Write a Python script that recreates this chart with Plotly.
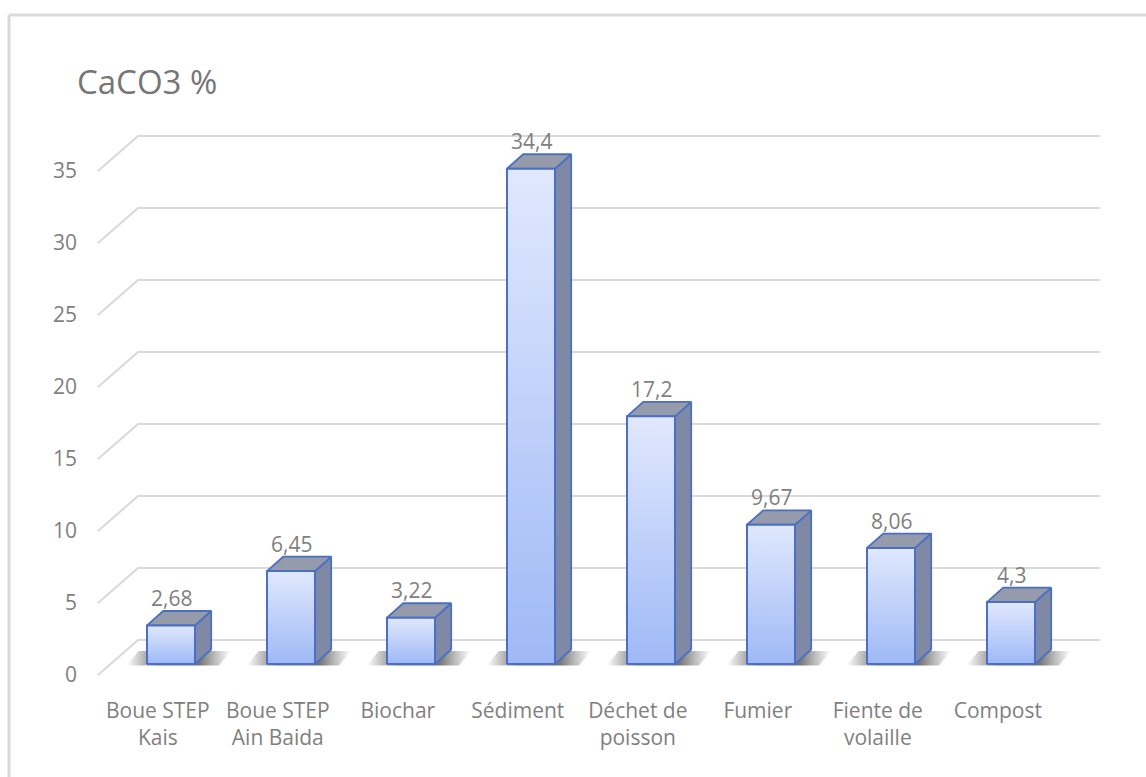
import plotly.graph_objects as go

# ---- data ----
categories = ["Boue STEP<br>Kais", "Boue STEP<br>Ain Baida", "Biochar", "Sédiment",
              "Déchet de<br>poisson", "Fumier", "Fiente de<br>volaille", "Compost"]
caco3 = [2.68, 6.45, 3.22, 34.4, 17.2, 9.67, 8.06, 4.3]
y_ticks = [0, 5, 10, 15, 20, 25, 30, 35]
title_text = "CaCO3 %"

# ---- page / scale geometry ----
W, H = 1146, 777
CAT_PX = 120.0        # pixels between category centres
UNIT_PX = 14.4        # pixels per % unit
X0_PX = 171.0         # pixel column of the first category
BASE_PX = 664.0       # pixel row of the bar base (front plane)

x_range = [-X0_PX / CAT_PX, (W - X0_PX) / CAT_PX]
y_range = [-(H - BASE_PX) / UNIT_PX, BASE_PX / UNIT_PX]

# 3-D look (data units)
HALF_W = 0.2          # half width of a bar front face
DEPTH_X = 0.135       # oblique depth of a bar, horizontal
DEPTH_Y = 1.0         # oblique depth of a bar, vertical
SIDE_FRONT_X = -0.608 # front edge of the side wall
WALL_LEFT_X = -0.275  # back wall left edge
WALL_RIGHT_X = 7.74   # back wall right edge
SIDE_FRONT_DY = -0.764
BACK_DY = 1.667
LABEL_SHIFT = -0.11   # category labels sit on the front edge of the floor

GRID_COLOR = "#d9d9d9"
TEXT_COLOR = "#7f7f7f"
EDGE_COLOR = "#4a6fc4"
FRONT_TOP = "#e0e8fd"
FRONT_BOTTOM = "#9fb9f6"
SIDE_COLOR = "#7f89a6"
TOP_COLOR = "#969bac"
FONT = "Open Sans"

fig = go.Figure()

# side wall and back wall gridlines
gx, gy = [], []
for v in y_ticks:
    gx += [SIDE_FRONT_X, WALL_LEFT_X, WALL_RIGHT_X, None]
    gy += [v + SIDE_FRONT_DY, v + BACK_DY, v + BACK_DY, None]
fig.add_trace(go.Scatter(x=gx, y=gy, mode="lines",
                         line=dict(color=GRID_COLOR, width=2),
                         hoverinfo="skip", showlegend=False))

# soft floor shadows behind each column
for i, v in enumerate(caco3):
    sx = [i - 0.37, i + 0.40, i + 0.50, i - 0.27, i - 0.37]
    sy = [-0.1, -0.1, 0.9, 0.9, -0.1]
    fig.add_trace(go.Scatter(
        x=sx, y=sy, mode="lines", fill="toself",
        line=dict(width=0, color="rgba(0,0,0,0)"),
        fillgradient=dict(type="horizontal", colorscale=[
            [0.0, "rgba(90,90,90,0)"], [0.3, "rgba(70,70,70,0.75)"],
            [0.7, "rgba(70,70,70,0.75)"], [1.0, "rgba(90,90,90,0)"]]),
        hoverinfo="skip", showlegend=False))

# columns: side, top, front faces
for i, v in enumerate(caco3):
    xl, xr = i - HALF_W, i + HALF_W
    fig.add_trace(go.Scatter(
        x=[xr, xr + DEPTH_X, xr + DEPTH_X, xr, xr],
        y=[0, DEPTH_Y, v + DEPTH_Y, v, 0],
        mode="lines", fill="toself", fillcolor=SIDE_COLOR,
        line=dict(color=EDGE_COLOR, width=1.8),
        hoverinfo="skip", showlegend=False))
    fig.add_trace(go.Scatter(
        x=[xl, xr, xr + DEPTH_X, xl + DEPTH_X, xl],
        y=[v, v, v + DEPTH_Y, v + DEPTH_Y, v],
        mode="lines", fill="toself", fillcolor=TOP_COLOR,
        line=dict(color=EDGE_COLOR, width=1.8),
        hoverinfo="skip", showlegend=False))
    fig.add_trace(go.Scatter(
        x=[xl, xr, xr, xl, xl],
        y=[0, 0, v, v, 0],
        mode="lines", fill="toself",
        fillgradient=dict(type="vertical",
                          colorscale=[[0, FRONT_BOTTOM], [1, FRONT_TOP]]),
        line=dict(color=EDGE_COLOR, width=2),
        hovertemplate=f"{categories[i].replace('<br>', ' ')}: {v}<extra></extra>",
        showlegend=False))

# invisible anchor so the tick-label axis is drawn
fig.add_trace(go.Scatter(x=[x_range[0]] * len(y_ticks), y=y_ticks, yaxis="y2",
                         mode="markers", marker=dict(opacity=0),
                         hoverinfo="skip", showlegend=False))

# value labels
for i, v in enumerate(caco3):
    fig.add_annotation(x=i, y=v + 1.9, text=f"{v:g}".replace(".", ","),
                       showarrow=False, xanchor="center", yanchor="middle",
                       font=dict(family=FONT, size=21, color=TEXT_COLOR))

# title
fig.add_annotation(xref="paper", yref="paper", x=75 / W, y=1 - 81 / H,
                   text=title_text, showarrow=False, xanchor="left", yanchor="middle",
                   font=dict(family=FONT, size=33, color="#767676"))

# chart frame (top and left edges)
fig.add_shape(type="line", xref="paper", yref="paper", x0=9 / W, x1=1, y0=1 - 15 / H,
              y1=1 - 15 / H, line=dict(color="#d9d9d9", width=3))
fig.add_shape(type="line", xref="paper", yref="paper", x0=9 / W, x1=9 / W, y0=0,
              y1=1 - 15 / H, line=dict(color="#d9d9d9", width=3))

fig.update_layout(
    width=W, height=H,
    margin=dict(l=0, r=0, t=0, b=0),
    paper_bgcolor="white", plot_bgcolor="white",
    xaxis=dict(range=x_range, anchor="free", position=1 - 696 / H,
               tickvals=[i + LABEL_SHIFT for i in range(len(categories))],
               ticktext=categories,
               showgrid=False, zeroline=False, showline=False, ticks="",
               tickfont=dict(family=FONT, size=21, color=TEXT_COLOR)),
    yaxis=dict(range=y_range, showgrid=False, zeroline=False, showline=False,
               showticklabels=False, ticks=""),
    yaxis2=dict(range=[y_range[0] - SIDE_FRONT_DY, y_range[1] - SIDE_FRONT_DY],
                overlaying="y", anchor="free", position=77 / W, side="left",
                tickvals=y_ticks, showgrid=False, zeroline=False, showline=False,
                ticks="", tickfont=dict(family=FONT, size=21, color=TEXT_COLOR)),
    showlegend=False,
)

fig.write_html("out.html")
